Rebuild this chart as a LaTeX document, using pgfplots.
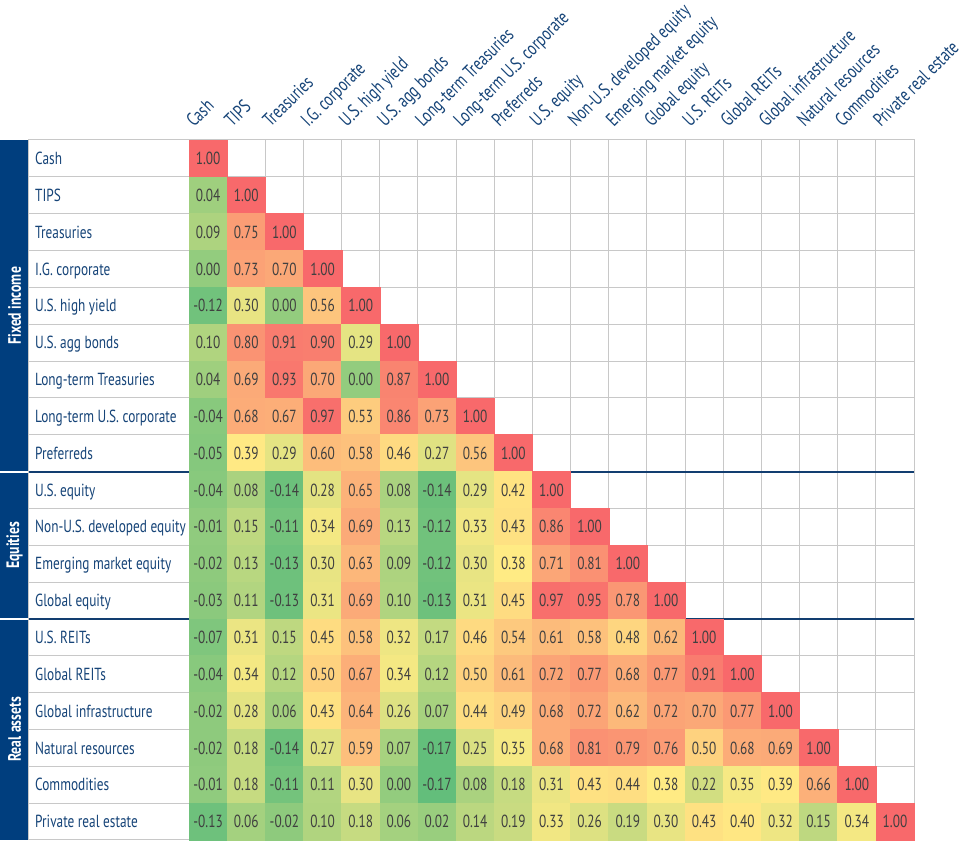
\documentclass[border=0pt]{standalone}
\usepackage{fontspec}
\setmainfont{PT Sans}[FakeStretch=0.76]
\usepackage{pgfplots}
\pgfplotsset{compat=1.18}
\usepackage{pgfplotstable}
\definecolor{navyband}{RGB}{0,62,126}
\definecolor{labelblue}{RGB}{22,68,120}
\definecolor{numtext}{RGB}{64,64,64}
\definecolor{gridgray}{RGB}{200,200,200}
\definecolor{sepblue}{RGB}{18,62,112}
\definecolor{cmin}{RGB}{99,190,123}
\definecolor{cmid}{RGB}{255,235,132}
\definecolor{cmax}{RGB}{248,105,107}
\pgfplotstableread{
x y v
0 18 1.00
0 17 0.04
1 17 1.00
0 16 0.09
1 16 0.75
2 16 1.00
0 15 0.00
1 15 0.73
2 15 0.70
3 15 1.00
0 14 -0.12
1 14 0.30
2 14 0.00
3 14 0.56
4 14 1.00
0 13 0.10
1 13 0.80
2 13 0.91
3 13 0.90
4 13 0.29
5 13 1.00
0 12 0.04
1 12 0.69
2 12 0.93
3 12 0.70
4 12 0.00
5 12 0.87
6 12 1.00
0 11 -0.04
1 11 0.68
2 11 0.67
3 11 0.97
4 11 0.53
5 11 0.86
6 11 0.73
7 11 1.00
0 10 -0.05
1 10 0.39
2 10 0.29
3 10 0.60
4 10 0.58
5 10 0.46
6 10 0.27
7 10 0.56
8 10 1.00
0 9 -0.04
1 9 0.08
2 9 -0.14
3 9 0.28
4 9 0.65
5 9 0.08
6 9 -0.14
7 9 0.29
8 9 0.42
9 9 1.00
0 8 -0.01
1 8 0.15
2 8 -0.11
3 8 0.34
4 8 0.69
5 8 0.13
6 8 -0.12
7 8 0.33
8 8 0.43
9 8 0.86
10 8 1.00
0 7 -0.02
1 7 0.13
2 7 -0.13
3 7 0.30
4 7 0.63
5 7 0.09
6 7 -0.12
7 7 0.30
8 7 0.38
9 7 0.71
10 7 0.81
11 7 1.00
0 6 -0.03
1 6 0.11
2 6 -0.13
3 6 0.31
4 6 0.69
5 6 0.10
6 6 -0.13
7 6 0.31
8 6 0.45
9 6 0.97
10 6 0.95
11 6 0.78
12 6 1.00
0 5 -0.07
1 5 0.31
2 5 0.15
3 5 0.45
4 5 0.58
5 5 0.32
6 5 0.17
7 5 0.46
8 5 0.54
9 5 0.61
10 5 0.58
11 5 0.48
12 5 0.62
13 5 1.00
0 4 -0.04
1 4 0.34
2 4 0.12
3 4 0.50
4 4 0.67
5 4 0.34
6 4 0.12
7 4 0.50
8 4 0.61
9 4 0.72
10 4 0.77
11 4 0.68
12 4 0.77
13 4 0.91
14 4 1.00
0 3 -0.02
1 3 0.28
2 3 0.06
3 3 0.43
4 3 0.64
5 3 0.26
6 3 0.07
7 3 0.44
8 3 0.49
9 3 0.68
10 3 0.72
11 3 0.62
12 3 0.72
13 3 0.70
14 3 0.77
15 3 1.00
0 2 -0.02
1 2 0.18
2 2 -0.14
3 2 0.27
4 2 0.59
5 2 0.07
6 2 -0.17
7 2 0.25
8 2 0.35
9 2 0.68
10 2 0.81
11 2 0.79
12 2 0.76
13 2 0.50
14 2 0.68
15 2 0.69
16 2 1.00
0 1 -0.01
1 1 0.18
2 1 -0.11
3 1 0.11
4 1 0.30
5 1 0.00
6 1 -0.17
7 1 0.08
8 1 0.18
9 1 0.31
10 1 0.43
11 1 0.44
12 1 0.38
13 1 0.22
14 1 0.35
15 1 0.39
16 1 0.66
17 1 1.00
0 0 -0.13
1 0 0.06
2 0 -0.02
3 0 0.10
4 0 0.18
5 0 0.06
6 0 0.02
7 0 0.14
8 0 0.19
9 0 0.33
10 0 0.26
11 0 0.19
12 0 0.30
13 0 0.43
14 0 0.40
15 0 0.32
16 0 0.15
17 0 0.34
18 0 1.00
}\corrdata
\begin{document}
\begin{tikzpicture}
\begin{axis}[
  x=38.16pt, y=36.84pt,
  xmin=-4.693, xmax=18.5, ymin=-0.5, ymax=18.5,
  axis on top, clip=false,
  xtick={0,...,18},
  xticklabels={Cash,TIPS,Treasuries,I.G. corporate,U.S. high yield,U.S. agg bonds,Long-term Treasuries,Long-term U.S. corporate,Preferreds,U.S. equity,Non-U.S. developed equity,Emerging market equity,Global equity,U.S. REITs,Global REITs,Global infrastructure,Natural resources,Commodities,Private real estate},
  xticklabel pos=upper,
  xticklabel style={xshift=-14pt, yshift=12pt, rotate=45, anchor=base west, inner sep=0pt, font=\fontsize{19}{21}\selectfont},
  ytick={0,...,18},
  yticklabels={Private real estate,Commodities,Natural resources,Global infrastructure,Global REITs,U.S. REITs,Global equity,Emerging market equity,Non-U.S. developed equity,U.S. equity,Preferreds,Long-term U.S. corporate,Long-term Treasuries,U.S. agg bonds,U.S. high yield,I.G. corporate,Treasuries,TIPS,Cash},
  yticklabel style={anchor=base west, inner sep=0pt, xshift=6pt, yshift=-6.2pt, font=\fontsize{17.5}{19}\selectfont},
  every tick label/.append style={text=labelblue},
  minor xtick={-0.5,0.5,...,18.5},
  minor ytick={-0.5,0.5,...,18.5},
  xminorgrids=true, yminorgrids=true,
  minor grid style={draw=gridgray, line width=1pt},
  major tick length=0pt, minor tick length=0pt,
  tick style={draw=none},
  axis line style={draw=gridgray, line width=1pt},
  extra y ticks={5.5,9.5}, extra y tick labels={},
  extra y tick style={grid=major, major grid style={draw=sepblue, line width=2pt}},
]
% coloured cells
\addplot[scatter, only marks, mark=square*, mark size=18.5pt,
  point meta=explicit,
  visualization depends on={\thisrow{v} \as \cv},
  scatter/@pre marker code/.code={%
    \ifdim\cv pt<0.38pt
      \pgfmathsetmacro\pp{max(0,min(100,(\cv+0.17)/0.55*100))}%
      \colorlet{cellc}{cmid!\pp!cmin}%
    \else
      \pgfmathsetmacro\pp{max(0,min(100,(\cv-0.38)/0.62*100))}%
      \colorlet{cellc}{cmax!\pp!cmid}%
    \fi
    \scope[fill=cellc, draw=cellc]},
  scatter/@post marker code/.code={\endscope},
  every mark/.append style={xscale=1.036},
] table[x=x, y=y, meta=v] {\corrdata};
% value labels
\addplot[only marks, mark=*, mark size=0pt, mark options={draw=none, fill=none},
  point meta=explicit,
  nodes near coords={\pgfmathprintnumber[fixed,fixed zerofill,precision=2,assume math mode=true]{\pgfplotspointmeta}},
  every node near coord/.append style={anchor=base, inner sep=0pt, yshift=-6.2pt, font=\fontsize{17.5}{19}\selectfont, text=numtext},
] table[x=x, y=y, meta=v] {\corrdata};
\fill[navyband] (axis cs:-5.453,18.5) rectangle (axis cs:-4.693,9.527);
\fill[navyband] (axis cs:-5.453,9.473) rectangle (axis cs:-4.693,5.527);
\fill[navyband] (axis cs:-5.453,5.473) rectangle (axis cs:-4.693,-0.5);
\node[rotate=90, text=white, font=\bfseries\fontsize{18}{20}\selectfont] at (axis cs:-5.073,14) {Fixed income};
\node[rotate=90, text=white, font=\bfseries\fontsize{18}{20}\selectfont] at (axis cs:-5.073,7.5) {Equities};
\node[rotate=90, text=white, font=\bfseries\fontsize{18}{20}\selectfont] at (axis cs:-5.073,2.5) {Real assets};
\coordinate (bbA) at (axis cs:-5.453,-0.826);
\coordinate (bbB) at (axis cs:19.862,22.30);
\end{axis}
\pgfresetboundingbox
\path (bbA) rectangle (bbB);
\end{tikzpicture}
\end{document}
